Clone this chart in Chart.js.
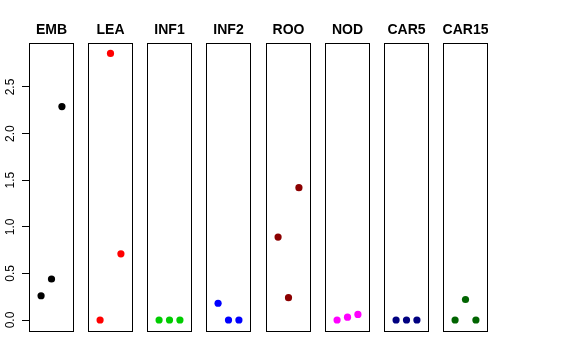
<!DOCTYPE html>
<html>
<head>
<meta charset="utf-8">
<script src="https://cdn.jsdelivr.net/npm/chart.js@4"></script>
<style>
  html, body { margin: 0; padding: 0; background: #fff; }
  #wrap { position: relative; width: 576px; height: 360px; overflow: hidden; }
  #wrap canvas { position: absolute; top: 0; }
</style>
</head>
<body>
<div id="wrap"></div>
<script>
// panel names and colours
const panelNames = ['EMB', 'LEA', 'INF1', 'INF2', 'ROO', 'NOD', 'CAR5', 'CAR15'];
const panelColors = ['#000000', '#FF0000', '#00CD00', '#0000FF', '#8B0000', '#FF00FF', '#000080', '#006400'];

// x positions within each panel
const xPos = [1, 2, 3];

// values
const embValues = [0.26, 0.44, 2.29];
const leaValues = [0.00, 2.86, 0.71];
const inf1Values = [0.00, 0.00, 0.00];
const inf2Values = [0.18, 0.00, 0.00];
const rooValues = [0.89, 0.24, 1.42];
const nodValues = [0.00, 0.03, 0.06];
const car5Values = [0.00, 0.00, 0.00];
const car15Values = [0.00, 0.22, 0.00];
const allValues = [embValues, leaValues, inf1Values, inf2Values, rooValues, nodValues, car5Values, car15Values];

// y axis ticks
const yTicks = [0, 0.5, 1.0, 1.5, 2.0, 2.5];

const yMin = -0.118;
const yMax = 2.972;
const xMin = -0.16;
const xMax = 4.16;

// box around each panel and its title above it
const framePlugin = {
  id: 'frame',
  afterDraw(chart, args, opts) {
    const { ctx, chartArea: a } = chart;
    ctx.save();
    ctx.strokeStyle = '#000';
    ctx.lineWidth = 1;
    ctx.strokeRect(Math.round(a.left) + 0.5, Math.round(a.top) + 0.5,
      Math.round(a.right - a.left) - 1, Math.round(a.bottom - a.top));
    ctx.fillStyle = '#000';
    ctx.font = 'bold 14px "Liberation Sans", Arial, sans-serif';
    ctx.textAlign = 'center';
    ctx.textBaseline = 'alphabetic';
    ctx.fillText(opts.text, (a.left + a.right) / 2, 34);
    ctx.restore();
  }
};

const wrap = document.getElementById('wrap');
const panelWidth = 45;
const axisWidth = 29;

panelNames.forEach((name, i) => {
  const first = i === 0;
  const left = 29 + i * 59.15;
  const canvas = document.createElement('canvas');
  const cLeft = first ? 0 : Math.round(left);
  const cWidth = first ? Math.round(left + panelWidth) : panelWidth;
  canvas.style.left = cLeft + 'px';
  canvas.style.width = cWidth + 'px';
  canvas.style.height = '360px';
  canvas.width = cWidth;
  canvas.height = 360;
  wrap.appendChild(canvas);

  const yScale = {
    type: 'linear',
    min: yMin,
    max: yMax,
    display: first,
    afterBuildTicks: s => { s.ticks = yTicks.map(v => ({ value: v })); },
    border: { display: false },
    grid: {
      drawOnChartArea: false,
      drawTicks: true,
      tickLength: 7,
      color: '#000',
      lineWidth: 1
    },
    ticks: {
      color: '#000',
      font: { family: 'Liberation Sans, Arial, sans-serif', size: 12 },
      padding: 3,
      minRotation: 90,
      maxRotation: 90,
      crossAlign: 'center',
      autoSkip: false,
      callback: v => v.toFixed(1)
    }
  };
  if (first) yScale.afterFit = s => { s.width = axisWidth; };

  new Chart(canvas.getContext('2d'), {
    type: 'scatter',
    data: {
      datasets: [{
        data: xPos.map((x, j) => ({ x: x, y: allValues[i][j] })),
        backgroundColor: panelColors[i],
        borderWidth: 0,
        pointRadius: 3.6,
        pointHoverRadius: 3.6
      }]
    },
    options: {
      responsive: false,
      animation: false,
      events: [],
      layout: { autoPadding: false, padding: { left: 0, right: 0, top: 43, bottom: 29 } },
      plugins: {
        legend: { display: false },
        tooltip: { enabled: false },
        title: { display: false },
        frame: { text: name }
      },
      scales: {
        x: {
          type: 'linear',
          min: xMin,
          max: xMax,
          display: false
        },
        y: yScale
      }
    },
    plugins: [framePlugin]
  });
});
</script>
</body>
</html>
